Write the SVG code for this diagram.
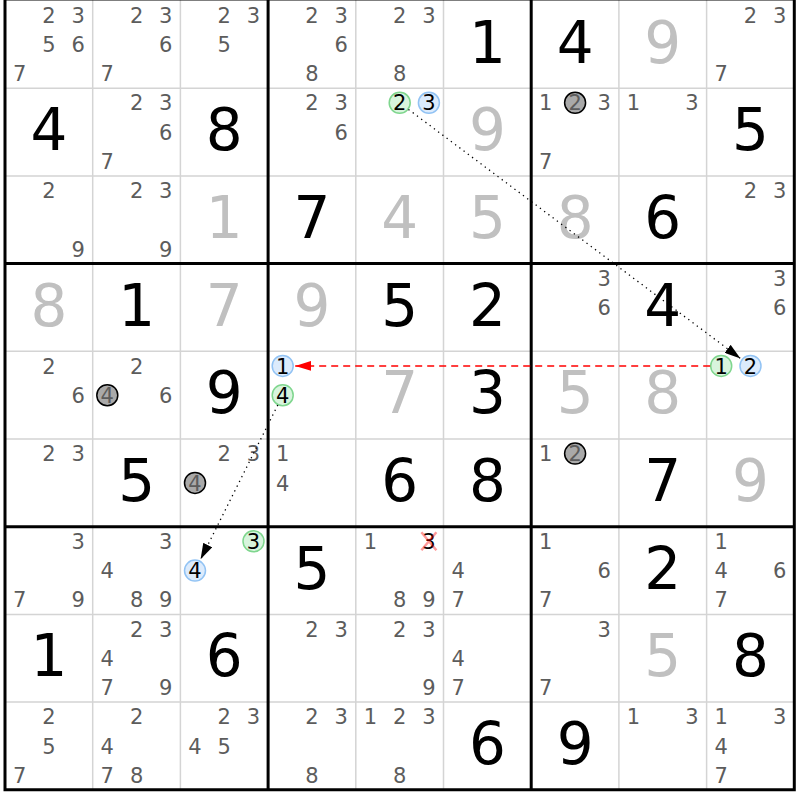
<svg xmlns="http://www.w3.org/2000/svg" width="800" height="800" viewBox="0 0 800 800">
<style>
text{font-family:"DejaVu Sans",Verdana,sans-serif;text-anchor:middle}
.c{font-size:21px;fill:#5c5c5c}
.g{font-size:58px;fill:#000}
.s{font-size:58px;fill:#c0c0c0}
.k{font-size:21px;fill:#000}
.thin{stroke:#d4d4d4;stroke-width:1.5}
.thick{stroke:#000;stroke-width:3}
.cg{fill:#d8f4dd;stroke:#7fd68e;stroke-width:1.5}
.cb{fill:#dcebfc;stroke:#92c3f4;stroke-width:1.5}
.cx{fill:#a9a9a9;stroke:#000;stroke-width:1.5}
.dot{stroke:#000;stroke-width:1.3;stroke-dasharray:1.3 4;fill:none}
.dash{stroke:#ff0000;stroke-width:1.5;stroke-dasharray:7 5;fill:none}
</style>
<defs>
<marker id="ab" viewBox="0 0 16 10" refX="16" refY="5" markerWidth="16" markerHeight="10" markerUnits="userSpaceOnUse" orient="auto"><path d="M0,0 L16,5 L0,10 z" fill="#000"/></marker>
<marker id="ar" viewBox="0 0 16 10" refX="16" refY="5" markerWidth="16" markerHeight="10" markerUnits="userSpaceOnUse" orient="auto"><path d="M0,0 L16,5 L0,10 z" fill="#ff0000"/></marker>
</defs>
<rect x="0" y="0" width="800" height="800" fill="#fff"/>
<g id="grid">
<path class="thin" d="M92.7,0V790M180.4,0V790M355.8,0V790M443.5,0V790M618.9,0V790M706.6,0V790M5,88.2H794.3M5,175.9H794.3M5,351.3H794.3M5,439H794.3M5,614.4H794.3M5,702.1H794.3"/>
<path class="thick" d="M5,-2V791.3M268.1,-2V791.3M531.2,-2V791.3M794.3,-2V791.3M3.5,-1H795.8M3.5,263.6H795.8M3.5,526.7H795.8M3.5,789.8H795.8"/>
</g>
<!-- row 0 -->
<g id="r0c0" transform="translate(5,0.5)"><text class="c" x="43.9" y="22.3">2</text><text class="c" x="73.1" y="22.3">3</text><text class="c" x="43.9" y="51.6">5</text><text class="c" x="73.1" y="51.6">6</text><text class="c" x="14.6" y="80.8">7</text></g>
<g id="r0c1" transform="translate(92.7,0.5)"><text class="c" x="43.9" y="22.3">2</text><text class="c" x="73.1" y="22.3">3</text><text class="c" x="73.1" y="51.6">6</text><text class="c" x="14.6" y="80.8">7</text></g>
<g id="r0c2" transform="translate(180.4,0.5)"><text class="c" x="43.9" y="22.3">2</text><text class="c" x="73.1" y="22.3">3</text><text class="c" x="43.9" y="51.6">5</text></g>
<g id="r0c3" transform="translate(268.1,0.5)"><text class="c" x="43.9" y="22.3">2</text><text class="c" x="73.1" y="22.3">3</text><text class="c" x="73.1" y="51.6">6</text><text class="c" x="43.9" y="80.8">8</text></g>
<g id="r0c4" transform="translate(355.8,0.5)"><text class="c" x="43.9" y="22.3">2</text><text class="c" x="73.1" y="22.3">3</text><text class="c" x="43.9" y="80.8">8</text></g>
<g id="r0c5" transform="translate(443.5,0.5)"><text class="g" x="43.9" y="62">1</text></g>
<g id="r0c6" transform="translate(531.2,0.5)"><text class="g" x="43.9" y="62">4</text></g>
<g id="r0c7" transform="translate(618.9,0.5)"><text class="s" x="43.9" y="62">9</text></g>
<g id="r0c8" transform="translate(706.6,0.5)"><text class="c" x="43.9" y="22.3">2</text><text class="c" x="73.1" y="22.3">3</text><text class="c" x="14.6" y="80.8">7</text></g>
<!-- row 1 -->
<g id="r1c0" transform="translate(5,88.2)"><text class="g" x="43.9" y="62">4</text></g>
<g id="r1c1" transform="translate(92.7,88.2)"><text class="c" x="43.9" y="22.3">2</text><text class="c" x="73.1" y="22.3">3</text><text class="c" x="73.1" y="51.6">6</text><text class="c" x="14.6" y="80.8">7</text></g>
<g id="r1c2" transform="translate(180.4,88.2)"><text class="g" x="43.9" y="62">8</text></g>
<g id="r1c3" transform="translate(268.1,88.2)"><text class="c" x="43.9" y="22.3">2</text><text class="c" x="73.1" y="22.3">3</text><text class="c" x="73.1" y="51.6">6</text></g>
<g id="r1c4" transform="translate(355.8,88.2)"><circle class="cg" cx="43.9" cy="14.6" r="10.5"/><text class="k" x="43.9" y="22.3">2</text><circle class="cb" cx="73.1" cy="14.6" r="10.5"/><text class="k" x="73.1" y="22.3">3</text></g>
<g id="r1c5" transform="translate(443.5,88.2)"><text class="s" x="43.9" y="62">9</text></g>
<g id="r1c6" transform="translate(531.2,88.2)"><text class="c" x="14.6" y="22.3">1</text><circle class="cx" cx="43.9" cy="14.6" r="10.5"/><text class="c" x="43.9" y="22.3">2</text><text class="c" x="73.1" y="22.3">3</text><text class="c" x="14.6" y="80.8">7</text></g>
<g id="r1c7" transform="translate(618.9,88.2)"><text class="c" x="14.6" y="22.3">1</text><text class="c" x="73.1" y="22.3">3</text></g>
<g id="r1c8" transform="translate(706.6,88.2)"><text class="g" x="43.9" y="62">5</text></g>
<!-- row 2 -->
<g id="r2c0" transform="translate(5,175.9)"><text class="c" x="43.9" y="22.3">2</text><text class="c" x="73.1" y="80.8">9</text></g>
<g id="r2c1" transform="translate(92.7,175.9)"><text class="c" x="43.9" y="22.3">2</text><text class="c" x="73.1" y="22.3">3</text><text class="c" x="73.1" y="80.8">9</text></g>
<g id="r2c2" transform="translate(180.4,175.9)"><text class="s" x="43.9" y="62">1</text></g>
<g id="r2c3" transform="translate(268.1,175.9)"><text class="g" x="43.9" y="62">7</text></g>
<g id="r2c4" transform="translate(355.8,175.9)"><text class="s" x="43.9" y="62">4</text></g>
<g id="r2c5" transform="translate(443.5,175.9)"><text class="s" x="43.9" y="62">5</text></g>
<g id="r2c6" transform="translate(531.2,175.9)"><text class="s" x="43.9" y="62">8</text></g>
<g id="r2c7" transform="translate(618.9,175.9)"><text class="g" x="43.9" y="62">6</text></g>
<g id="r2c8" transform="translate(706.6,175.9)"><text class="c" x="43.9" y="22.3">2</text><text class="c" x="73.1" y="22.3">3</text></g>
<!-- row 3 -->
<g id="r3c0" transform="translate(5,263.6)"><text class="s" x="43.9" y="62">8</text></g>
<g id="r3c1" transform="translate(92.7,263.6)"><text class="g" x="43.9" y="62">1</text></g>
<g id="r3c2" transform="translate(180.4,263.6)"><text class="s" x="43.9" y="62">7</text></g>
<g id="r3c3" transform="translate(268.1,263.6)"><text class="s" x="43.9" y="62">9</text></g>
<g id="r3c4" transform="translate(355.8,263.6)"><text class="g" x="43.9" y="62">5</text></g>
<g id="r3c5" transform="translate(443.5,263.6)"><text class="g" x="43.9" y="62">2</text></g>
<g id="r3c6" transform="translate(531.2,263.6)"><text class="c" x="73.1" y="22.3">3</text><text class="c" x="73.1" y="51.6">6</text></g>
<g id="r3c7" transform="translate(618.9,263.6)"><text class="g" x="43.9" y="62">4</text></g>
<g id="r3c8" transform="translate(706.6,263.6)"><text class="c" x="73.1" y="22.3">3</text><text class="c" x="73.1" y="51.6">6</text></g>
<!-- row 4 -->
<g id="r4c0" transform="translate(5,351.3)"><text class="c" x="43.9" y="22.3">2</text><text class="c" x="73.1" y="51.6">6</text></g>
<g id="r4c1" transform="translate(92.7,351.3)"><text class="c" x="43.9" y="22.3">2</text><circle class="cx" cx="14.6" cy="43.9" r="10.5"/><text class="c" x="14.6" y="51.6">4</text><text class="c" x="73.1" y="51.6">6</text></g>
<g id="r4c2" transform="translate(180.4,351.3)"><text class="g" x="43.9" y="62">9</text></g>
<g id="r4c3" transform="translate(268.1,351.3)"><circle class="cb" cx="14.6" cy="14.6" r="10.5"/><text class="k" x="14.6" y="22.3">1</text><circle class="cg" cx="14.6" cy="43.9" r="10.5"/><text class="k" x="14.6" y="51.6">4</text></g>
<g id="r4c4" transform="translate(355.8,351.3)"><text class="s" x="43.9" y="62">7</text></g>
<g id="r4c5" transform="translate(443.5,351.3)"><text class="g" x="43.9" y="62">3</text></g>
<g id="r4c6" transform="translate(531.2,351.3)"><text class="s" x="43.9" y="62">5</text></g>
<g id="r4c7" transform="translate(618.9,351.3)"><text class="s" x="43.9" y="62">8</text></g>
<g id="r4c8" transform="translate(706.6,351.3)"><circle class="cg" cx="14.6" cy="14.6" r="10.5"/><text class="k" x="14.6" y="22.3">1</text><circle class="cb" cx="43.9" cy="14.6" r="10.5"/><text class="k" x="43.9" y="22.3">2</text></g>
<!-- row 5 -->
<g id="r5c0" transform="translate(5,439)"><text class="c" x="43.9" y="22.3">2</text><text class="c" x="73.1" y="22.3">3</text></g>
<g id="r5c1" transform="translate(92.7,439)"><text class="g" x="43.9" y="62">5</text></g>
<g id="r5c2" transform="translate(180.4,439)"><text class="c" x="43.9" y="22.3">2</text><text class="c" x="73.1" y="22.3">3</text><circle class="cx" cx="14.6" cy="43.9" r="10.5"/><text class="c" x="14.6" y="51.6">4</text></g>
<g id="r5c3" transform="translate(268.1,439)"><text class="c" x="14.6" y="22.3">1</text><text class="c" x="14.6" y="51.6">4</text></g>
<g id="r5c4" transform="translate(355.8,439)"><text class="g" x="43.9" y="62">6</text></g>
<g id="r5c5" transform="translate(443.5,439)"><text class="g" x="43.9" y="62">8</text></g>
<g id="r5c6" transform="translate(531.2,439)"><text class="c" x="14.6" y="22.3">1</text><circle class="cx" cx="43.9" cy="14.6" r="10.5"/><text class="c" x="43.9" y="22.3">2</text></g>
<g id="r5c7" transform="translate(618.9,439)"><text class="g" x="43.9" y="62">7</text></g>
<g id="r5c8" transform="translate(706.6,439)"><text class="s" x="43.9" y="62">9</text></g>
<!-- row 6 -->
<g id="r6c0" transform="translate(5,526.7)"><text class="c" x="73.1" y="22.3">3</text><text class="c" x="14.6" y="80.8">7</text><text class="c" x="73.1" y="80.8">9</text></g>
<g id="r6c1" transform="translate(92.7,526.7)"><text class="c" x="73.1" y="22.3">3</text><text class="c" x="14.6" y="51.6">4</text><text class="c" x="43.9" y="80.8">8</text><text class="c" x="73.1" y="80.8">9</text></g>
<g id="r6c2" transform="translate(180.4,526.7)"><circle class="cg" cx="73.1" cy="14.6" r="10.5"/><text class="k" x="73.1" y="22.3">3</text><circle class="cb" cx="14.6" cy="43.9" r="10.5"/><text class="k" x="14.6" y="51.6">4</text></g>
<g id="r6c3" transform="translate(268.1,526.7)"><text class="g" x="43.9" y="62">5</text></g>
<g id="r6c4" transform="translate(355.8,526.7)"><text class="c" x="14.6" y="22.3">1</text><text class="k" x="73.1" y="22.3">3</text><path d="M65.6,5.6L80.6,23.6M80.6,5.6L65.6,23.6" stroke="#ff0000" stroke-opacity="0.4" stroke-width="2.5"/><text class="c" x="43.9" y="80.8">8</text><text class="c" x="73.1" y="80.8">9</text></g>
<g id="r6c5" transform="translate(443.5,526.7)"><text class="c" x="14.6" y="51.6">4</text><text class="c" x="14.6" y="80.8">7</text></g>
<g id="r6c6" transform="translate(531.2,526.7)"><text class="c" x="14.6" y="22.3">1</text><text class="c" x="73.1" y="51.6">6</text><text class="c" x="14.6" y="80.8">7</text></g>
<g id="r6c7" transform="translate(618.9,526.7)"><text class="g" x="43.9" y="62">2</text></g>
<g id="r6c8" transform="translate(706.6,526.7)"><text class="c" x="14.6" y="22.3">1</text><text class="c" x="14.6" y="51.6">4</text><text class="c" x="73.1" y="51.6">6</text><text class="c" x="14.6" y="80.8">7</text></g>
<!-- row 7 -->
<g id="r7c0" transform="translate(5,614.4)"><text class="g" x="43.9" y="62">1</text></g>
<g id="r7c1" transform="translate(92.7,614.4)"><text class="c" x="43.9" y="22.3">2</text><text class="c" x="73.1" y="22.3">3</text><text class="c" x="14.6" y="51.6">4</text><text class="c" x="14.6" y="80.8">7</text><text class="c" x="73.1" y="80.8">9</text></g>
<g id="r7c2" transform="translate(180.4,614.4)"><text class="g" x="43.9" y="62">6</text></g>
<g id="r7c3" transform="translate(268.1,614.4)"><text class="c" x="43.9" y="22.3">2</text><text class="c" x="73.1" y="22.3">3</text></g>
<g id="r7c4" transform="translate(355.8,614.4)"><text class="c" x="43.9" y="22.3">2</text><text class="c" x="73.1" y="22.3">3</text><text class="c" x="73.1" y="80.8">9</text></g>
<g id="r7c5" transform="translate(443.5,614.4)"><text class="c" x="14.6" y="51.6">4</text><text class="c" x="14.6" y="80.8">7</text></g>
<g id="r7c6" transform="translate(531.2,614.4)"><text class="c" x="73.1" y="22.3">3</text><text class="c" x="14.6" y="80.8">7</text></g>
<g id="r7c7" transform="translate(618.9,614.4)"><text class="s" x="43.9" y="62">5</text></g>
<g id="r7c8" transform="translate(706.6,614.4)"><text class="g" x="43.9" y="62">8</text></g>
<!-- row 8 -->
<g id="r8c0" transform="translate(5,702.1)"><text class="c" x="43.9" y="22.3">2</text><text class="c" x="43.9" y="51.6">5</text><text class="c" x="14.6" y="80.8">7</text></g>
<g id="r8c1" transform="translate(92.7,702.1)"><text class="c" x="43.9" y="22.3">2</text><text class="c" x="14.6" y="51.6">4</text><text class="c" x="14.6" y="80.8">7</text><text class="c" x="43.9" y="80.8">8</text></g>
<g id="r8c2" transform="translate(180.4,702.1)"><text class="c" x="43.9" y="22.3">2</text><text class="c" x="73.1" y="22.3">3</text><text class="c" x="14.6" y="51.6">4</text><text class="c" x="43.9" y="51.6">5</text></g>
<g id="r8c3" transform="translate(268.1,702.1)"><text class="c" x="43.9" y="22.3">2</text><text class="c" x="73.1" y="22.3">3</text><text class="c" x="43.9" y="80.8">8</text></g>
<g id="r8c4" transform="translate(355.8,702.1)"><text class="c" x="14.6" y="22.3">1</text><text class="c" x="43.9" y="22.3">2</text><text class="c" x="73.1" y="22.3">3</text><text class="c" x="43.9" y="80.8">8</text></g>
<g id="r8c5" transform="translate(443.5,702.1)"><text class="g" x="43.9" y="62">6</text></g>
<g id="r8c6" transform="translate(531.2,702.1)"><text class="g" x="43.9" y="62">9</text></g>
<g id="r8c7" transform="translate(618.9,702.1)"><text class="c" x="14.6" y="22.3">1</text><text class="c" x="73.1" y="22.3">3</text></g>
<g id="r8c8" transform="translate(706.6,702.1)"><text class="c" x="14.6" y="22.3">1</text><text class="c" x="73.1" y="22.3">3</text><text class="c" x="14.6" y="51.6">4</text><text class="c" x="14.6" y="80.8">7</text></g>
<g id="connectors">
<path class="dot" d="M408.45,109.42L740.45,358.42" marker-end="url(#ab)"/>
<path class="dash" d="M710.2,365.9L295.2,365.9" marker-end="url(#ar)"/>
<path class="dot" d="M277.78,404.99L200.59,559.37" marker-end="url(#ab)"/>
</g>
</svg>
